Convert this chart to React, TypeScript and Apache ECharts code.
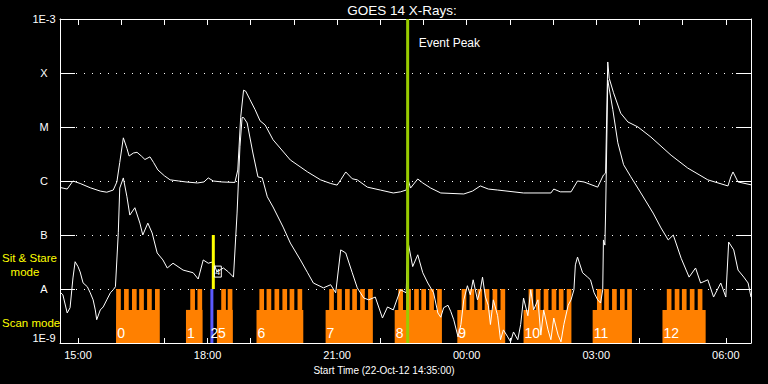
import React, { useEffect, useRef } from "react";
import * as echarts from "echarts";

// ---- GOES 14 long channel (1-8 A) ----
const longTimes = [
  "14:35", "14:45", "14:53", "15:03", "15:17", "15:31", "15:40", "15:49", "15:54", "15:58",
  "16:03", "16:08", "16:11", "16:17", "16:22", "16:28", "16:33", "16:40", "16:45", "16:51",
  "17:00", "17:08", "17:20", "17:30", "17:46", "17:55", "18:01", "18:08", "18:20", "18:38",
  "18:42", "18:46", "18:50", "18:53", "18:59", "19:06", "19:13", "19:20", "19:31", "19:55",
  "20:19", "20:37", "20:51", "21:00", "21:05", "21:12", "21:21", "21:28", "21:42", "22:00",
  "22:18", "22:28", "22:36", "22:38", "22:42", "22:52", "22:59", "23:10", "23:24", "23:56",
  "00:08", "00:19", "00:30", "00:43", "01:19", "01:57", "02:01", "02:10", "02:25", "02:34",
  "02:43", "03:02", "03:10", "03:13", "03:16", "03:18", "03:24", "03:34", "03:44", "03:58",
  "04:16", "04:44", "05:07", "05:35", "06:03", "06:07", "06:10", "06:17", "06:35",
];
const longFlux = [
  7.6e-7, 7.1e-7, 1.0e-6, 9.0e-7, 7.5e-7, 6.5e-7, 6.2e-7, 6.8e-7, 9.6e-7, 2.2e-6,
  6.3e-6, 4.0e-6, 2.9e-6, 3.3e-6, 3.4e-6, 2.9e-6, 2.5e-6, 2.8e-6, 2.2e-6, 1.6e-6,
  1.25e-6, 1.05e-6, 1.0e-6, 9.6e-7, 9.2e-7, 9.6e-7, 1.14e-6, 1.0e-6, 9.6e-7, 9.4e-7,
  1.6e-6, 1.5e-5, 4.8e-5, 4.6e-5, 3.2e-5, 2.1e-5, 1.3e-5, 1.09e-5, 5.8e-6, 2.45e-6,
  1.47e-6, 1.05e-6, 9.0e-7, 8.4e-7, 1.05e-6, 1.47e-6, 1.1e-6, 1.05e-6, 7.7e-7, 6.8e-7,
  6.0e-7, 6.3e-7, 6.8e-7, 1.14e-6, 7.4e-7, 1.09e-6, 9.2e-7, 7.4e-7, 6.0e-7, 5.75e-7,
  6.5e-7, 8.1e-7, 7.1e-7, 6.8e-7, 6.0e-7, 6.0e-7, 7.1e-7, 6.3e-7, 6.3e-7, 1.0e-6,
  9.6e-7, 7.7e-7, 1.29e-6, 1.4e-6, 1.6e-4, 8.0e-5, 4.3e-5, 1.8e-5, 1.24e-5, 1.0e-5,
  6.5e-6, 3.0e-6, 1.74e-6, 1.05e-6, 8.1e-7, 1.2e-6, 1.47e-6, 9.6e-7, 8.5e-7,
];

// ---- GOES 14 short channel (0.5-4 A) ----
const shortTimes = [
  "14:35", "14:39", "14:45", "14:49", "14:53", "14:56", "15:00", "15:03", "15:07", "15:13",
  "15:17", "15:21", "15:24", "15:26", "15:31", "15:35", "15:40", "15:45", "15:49", "15:52",
  "15:56", "15:58", "16:03", "16:08", "16:12", "16:19", "16:26", "16:30", "16:37", "16:43",
  "16:50", "16:58", "17:04", "17:12", "17:26", "17:40", "17:47", "17:54", "18:01", "18:08",
  "18:13", "18:22", "18:29", "18:36", "18:41", "18:45", "18:48", "18:50", "18:55", "19:03",
  "19:10", "19:16", "19:23", "19:31", "19:45", "19:55", "20:09", "20:19", "20:27", "20:41",
  "20:51", "20:58", "21:05", "21:12", "21:21", "21:28", "21:37", "21:44", "21:53", "22:03",
  "22:10", "22:18", "22:28", "22:36", "22:38", "22:45", "22:52", "22:59", "23:06", "23:14",
  "23:20", "23:24", "23:28", "23:34", "23:38", "23:42", "23:48", "23:52", "23:56", "00:01",
  "00:05", "00:09", "00:15", "00:19", "00:22", "00:26", "00:30", "00:33", "00:37", "00:43",
  "00:47", "00:51", "00:57", "01:01", "01:05", "01:11", "01:15", "01:19", "01:25", "01:29",
  "01:33", "01:39", "01:43", "01:47", "01:53", "01:57", "02:01", "02:07", "02:11", "02:15",
  "02:21", "02:25", "02:29", "02:31", "02:34", "02:41", "02:48", "02:52", "02:57", "03:02",
  "03:06", "03:09", "03:10", "03:12", "03:13", "03:14", "03:16", "03:23", "03:30", "03:38",
  "03:48", "04:02", "04:19", "04:30", "04:40", "04:47", "04:58", "05:09", "05:18", "05:25",
  "05:35", "05:43", "05:53", "06:00", "06:04", "06:11", "06:17", "06:25", "06:31", "06:35",
];
const shortFlux = [
  8.8e-9, 7.8e-9, 3.6e-9, 4.5e-9, 1.6e-8, 3.2e-8, 2.6e-8, 2.07e-8, 1.3e-8, 1.1e-8,
  8.5e-9, 6.3e-9, 4.1e-9, 2.7e-9, 4.1e-9, 4.65e-9, 6.3e-9, 8.5e-9, 9.7e-9, 1.1e-8,
  1.1e-7, 7.4e-7, 1.14e-6, 5.1e-7, 2.34e-7, 3.2e-7, 1.66e-7, 1.0e-7, 1.66e-7, 1.09e-7,
  4.65e-8, 3.45e-8, 2.45e-8, 3.0e-8, 2.24e-8, 2.0e-8, 1.53e-8, 3.45e-8, 3.0e-8, 3.2e-8,
  2.07e-8, 2.45e-8, 2.07e-8, 1.66e-8, 2.55e-7, 4.3e-6, 1.5e-5, 1.5e-5, 1.19e-5, 3.3e-6,
  1.19e-6, 1.14e-6, 5.1e-7, 3.3e-7, 1.4e-7, 7.1e-8, 3.45e-8, 2.0e-8, 1.29e-8, 1.05e-8,
  1.2e-8, 8.5e-9, 5.3e-8, 4.65e-8, 2.0e-8, 1.05e-8, 6.8e-9, 6.3e-9, 7.1e-9, 2.9e-9,
  4.65e-9, 4.1e-9, 9.7e-9, 8.5e-9, 8.1e-8, 2.6e-8, 4.3e-8, 2.0e-8, 1.29e-8, 8.5e-9,
  3.6e-9, 3.0e-9, 4.5e-9, 5.0e-9, 3.8e-9, 2.7e-9, 1.3e-9, 2.2e-9, 6.3e-9, 1.15e-8,
  7.8e-9, 1.48e-8, 6.3e-9, 9.7e-9, 1.66e-8, 7.1e-9, 5.0e-9, 2.2e-9, 6.3e-9, 3.2e-9,
  1.15e-9, 1.75e-9, 1.3e-9, 1.05e-9, 1.6e-9, 1.15e-9, 2.2e-9, 6.8e-9, 3.2e-9, 9.7e-9,
  4.1e-9, 6.3e-9, 1.4e-9, 4.1e-9, 1.75e-9, 1.15e-9, 2.9e-9, 1.4e-9, 1.05e-9, 2.2e-9,
  5.0e-9, 6.3e-9, 9.7e-9, 2.8e-8, 3.9e-8, 2.0e-8, 1.66e-8, 1.48e-8, 8.5e-9, 6.3e-9,
  5.5e-9, 9.7e-9, 8.1e-8, 6.5e-8, 2.55e-7, 1.6e-6, 7.4e-5, 2.1e-5, 5.1e-6, 2.0e-6,
  1.2e-6, 6.0e-7, 2.55e-7, 1.35e-7, 8.1e-8, 1.0e-7, 3.7e-8, 1.66e-8, 2.45e-8, 1.29e-8,
  1.48e-8, 7.1e-9, 1.29e-8, 7.1e-9, 7.4e-8, 5.3e-8, 2.24e-8, 1.66e-8, 1.29e-8, 7.1e-9,
];

// ---- Observation rasters (scan mode) ----
const rasterLabels = ["0", "1", "5", "6", "7", "8", "9", "10", "11", "12"];
const rasterStart = ["15:53", "17:30", "18:13", "19:08", "20:44", "22:20", "23:47", "01:19", "02:55", "04:32"];
const rasterEnd = ["16:53", "17:53", "18:35", "20:13", "21:49", "23:25", "00:53", "02:23", "03:49", "05:32"];
const rasterSteps = [
  ["15:53", "16:04", "16:15", "16:25", "16:36", "16:47"],
  ["17:36", "17:46"],
  ["18:19", "18:28"],
  ["19:12", "19:22", "19:33", "19:44", "19:54", "20:05"],
  ["20:49", "21:00", "21:11", "21:21", "21:32", "21:43"],
  ["22:25", "22:36", "22:47", "22:57", "23:08", "23:19"],
  ["23:53", "00:04", "00:15", "00:25", "00:36", "00:47"],
  ["01:26", "01:36", "01:47", "01:58", "02:08", "02:19"],
  ["03:01", "03:11", "03:22", "03:33", "03:43"],
  ["04:38", "04:49", "04:59", "05:10", "05:21"],
];
const stepMinutes = 6.5;

// ---- Single markers: scan raster "2", sit & stare "4", event peak ----
const markerTimes = ["18:06", "18:08", "22:38"];
const markerLow = [1e-9, 1e-8, 1e-9];
const markerHigh = [1e-8, 1e-7, 1e-3];

// ---- Axis labels ----
const yTickLabels: Record<string, string> = {
  "-9": "1E-9", "-8": "A", "-7": "B", "-6": "C", "-5": "M", "-4": "X", "-3": "1E-3",
};
const xStart = "14:35";
const xEnd = "06:35";
const hourTicks = ["15:00", "16:00", "17:00", "18:00", "19:00", "20:00", "21:00", "22:00", "23:00",
  "00:00", "01:00", "02:00", "03:00", "04:00", "05:00", "06:00"];
const hourLabels = ["15:00", "18:00", "21:00", "00:00", "03:00", "06:00"];

// minutes since 14:00 on 22-Oct-12
const toMin = (s: string) => {
  const [h, m] = s.split(":").map(Number);
  let t = h * 60 + m;
  if (h < 14) t += 1440;
  return t - 840;
};

const FONT = "Liberation Sans";

export default function App() {
  const ref = useRef<HTMLDivElement>(null);
  useEffect(() => {
    if (!ref.current) return;
    const chart = echarts.init(ref.current, null, { renderer: "svg" });

    const longData = longTimes.map((t, i) => [toMin(t), longFlux[i]]);
    const shortData = shortTimes.map((t, i) => [toMin(t), shortFlux[i]]);
    const rasterData = rasterStart.map((s, i) => [toMin(s), toMin(rasterEnd[i]), 1e-9, i]);
    const markerData = markerTimes.map((t, i) => [toMin(t), markerLow[i], markerHigh[i], i]);

    const axisLine = { show: true, lineStyle: { color: "#fff", width: 1 } };

    chart.setOption({
      animation: false,
      backgroundColor: "#000",
      grid: { left: 60, right: 17, top: 19, bottom: 41, containLabel: false },
      graphic: [
        { type: "text", x: 402, y: 10, style: { text: "GOES 14 X-Rays:", fill: "#fff", font: `13.5px "${FONT}"`, align: "center", verticalAlign: "middle" } },
        { type: "text", x: 384, y: 370, style: { text: "Start Time (22-Oct-12 14:35:00)", fill: "#fff", font: `10px "${FONT}"`, align: "center", verticalAlign: "middle" } },
        { type: "text", x: 2, y: 258, z: 10, style: { text: "Sit & Stare", fill: "#ffff00", font: `11.5px "${FONT}"`, align: "left", verticalAlign: "middle" } },
        { type: "text", x: 25, y: 272, style: { text: "mode", fill: "#ffff00", font: `11.5px "${FONT}"`, align: "center", verticalAlign: "middle" } },
        { type: "text", x: 2, y: 323, style: { text: "Scan mode", fill: "#ffff00", font: `11.5px "${FONT}"`, align: "left", verticalAlign: "middle" } },
      ],
      xAxis: [
        {
          type: "value", position: "bottom", min: toMin(xStart), max: toMin(xEnd),
          axisLine,
          axisTick: { show: true, inside: true, length: 5, customValues: hourTicks.map(toMin), lineStyle: { color: "#fff" } },
          axisLabel: {
            show: true, customValues: hourLabels.map(toMin), color: "#fff", fontFamily: FONT, fontSize: 11, margin: 6,
            formatter: (v: number) => {
              const h = (Math.floor(v / 60) + 14) % 24;
              return (h < 10 ? "0" : "") + h + ":00";
            },
          },
          splitLine: { show: false },
        },
        {
          type: "value", position: "top", min: toMin(xStart), max: toMin(xEnd),
          axisLine,
          axisTick: { show: true, inside: true, length: 6, customValues: hourTicks.map(toMin), lineStyle: { color: "#fff" } },
          axisLabel: { show: false },
          splitLine: { show: false },
        },
      ],
      yAxis: [
        {
          type: "log", logBase: 10, min: 1e-9, max: 1e-3, position: "left",
          axisLine,
          axisTick: { show: true, inside: true, length: 15, lineStyle: { color: "#fff" } },
          axisLabel: {
            color: "#fff", fontFamily: FONT, fontSize: 11, margin: 16, align: "center",
            verticalAlignMaxLabel: "top", verticalAlignMinLabel: "bottom",
            formatter: (v: number) => yTickLabels[String(Math.round(Math.log10(v)))] ?? "",
          },
          splitLine: { show: true, lineStyle: { color: "#fff", width: 1, type: [1, 7] } },
        },
        {
          type: "log", logBase: 10, min: 1e-9, max: 1e-3, position: "right",
          axisLine,
          axisTick: { show: true, inside: true, length: 15, lineStyle: { color: "#fff" } },
          axisLabel: { show: false },
          splitLine: { show: false },
        },
      ],
      series: [
        {
          type: "custom", name: "rasters", xAxisIndex: 0, yAxisIndex: 0, z: 1, clip: false,
          encode: { x: [0, 1], y: 2 },
          data: rasterData,
          renderItem: (params: any, api: any) => {
            const s = api.value(0), e = api.value(1), i = api.value(3);
            const p0 = api.coord([s, 1e-9]);
            const p1 = api.coord([e, 4.1e-9]);
            const children: any[] = [
              { type: "rect", shape: { x: p0[0], y: p1[1], width: p1[0] - p0[0], height: p0[1] - p1[1] }, style: { fill: "#ff8000" } },
            ];
            rasterSteps[i].forEach((st) => {
              const a = api.coord([toMin(st), 1e-9]);
              const b = api.coord([toMin(st) + stepMinutes, 1e-8]);
              children.push({ type: "rect", shape: { x: a[0], y: b[1], width: b[0] - a[0], height: a[1] - b[1] }, style: { fill: "#ff8000" } });
            });
            const ly = api.coord([s, 1.5e-9])[1];
            children.push({ type: "text", x: p0[0] + 1, y: ly, style: { text: rasterLabels[i], fill: "#fff", font: `14px "${FONT}"`, align: "left", verticalAlign: "middle" } });
            return { type: "group", children };
          },
        },
        {
          type: "line", name: "long", xAxisIndex: 0, yAxisIndex: 0, z: 3,
          data: longData, symbol: "none", lineStyle: { color: "#fff", width: 1 },
        },
        {
          type: "line", name: "short", xAxisIndex: 0, yAxisIndex: 0, z: 3,
          data: shortData, symbol: "none", lineStyle: { color: "#fff", width: 1 },
        },
        {
          type: "custom", name: "markers", xAxisIndex: 0, yAxisIndex: 0, z: 5, clip: false,
          encode: { x: 0, y: 1 },
          data: markerData,
          renderItem: (params: any, api: any) => {
            const t = api.value(0), lo = api.value(1), hi = api.value(2), k = api.value(3);
            const a = api.coord([t, lo]);
            const b = api.coord([t, hi]);
            const color = ["#5a5aff", "#ffff00", "#99cc00"][k];
            const children: any[] = [
              { type: "line", shape: { x1: a[0], y1: a[1], x2: b[0], y2: b[1] }, style: { stroke: color, lineWidth: 3 } },
            ];
            if (k === 0) {
              const ly = api.coord([t, 1.5e-9])[1];
              children.push({ type: "text", x: a[0] - 1.5, y: ly, style: { text: "2", fill: "#fff", font: `14px "${FONT}"`, align: "left", verticalAlign: "middle" } });
            } else if (k === 1) {
              const cy = api.coord([t, 2.1e-8])[1];
              children.push({ type: "rect", shape: { x: a[0] + 1, y: cy - 5.5, width: 7, height: 11 }, style: { fill: "none", stroke: "#fff", lineWidth: 1 } });
              children.push({ type: "text", x: a[0] + 4.5, y: cy, style: { text: "4", fill: "#fff", font: `9px "${FONT}"`, align: "center", verticalAlign: "middle" } });
            } else {
              children.push({ type: "text", x: a[0] + 11, y: b[1] + 24, style: { text: "Event Peak", fill: "#fff", font: `12px "${FONT}"`, align: "left", verticalAlign: "middle" } });
            }
            return { type: "group", children };
          },
        },
      ],
    });
    return () => chart.dispose();
  }, []);
  return (
    <div
      ref={ref}
      style={{ position: "absolute", left: 0, top: 0, width: 768, height: 384, background: "#000" }}
    />
  );
}
